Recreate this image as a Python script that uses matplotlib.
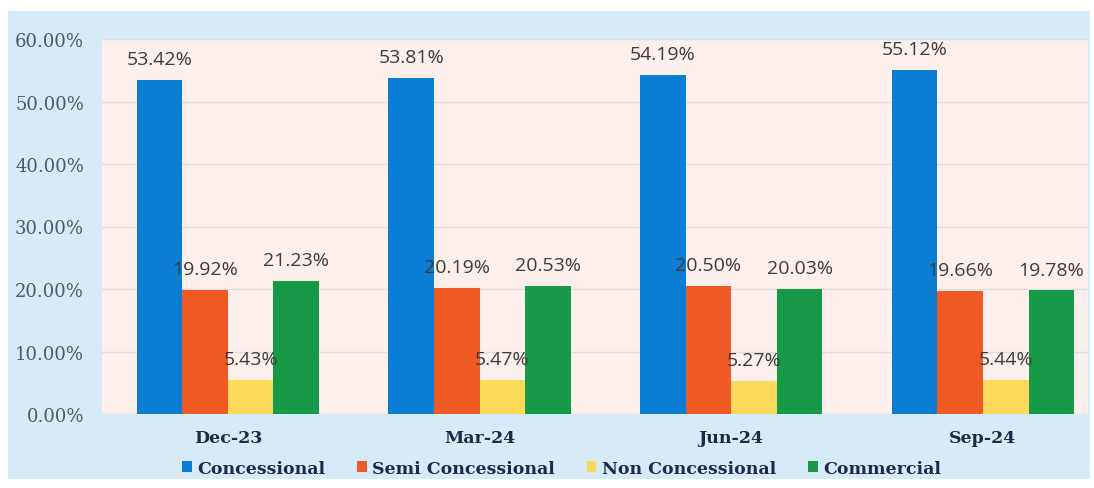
"""Debt composition by concessionality, quarterly."""
import matplotlib
matplotlib.use("Agg")
import matplotlib.pyplot as plt
import numpy as np
from matplotlib.patches import Rectangle

quarters = ["Dec-23", "Mar-24", "Jun-24", "Sep-24"]
series = ["Concessional", "Semi Concessional", "Non Concessional", "Commercial"]
concessional = [53.42, 53.81, 54.19, 55.12]
semi_concessional = [19.92, 20.19, 20.50, 19.66]
non_concessional = [5.43, 5.47, 5.27, 5.44]
commercial = [21.23, 20.53, 20.03, 19.78]
colors = ["#0b7dd4", "#ef5a24", "#fcd95a", "#169a48"]

values = [concessional, semi_concessional, non_concessional, commercial]

fig = plt.figure(figsize=(10.94, 4.89), dpi=100)
fig.patch.set_facecolor("white")
bg = fig.add_axes([0, 0, 1, 1], zorder=0)
bg.axis("off")
bg.set_xlim(0, 1094); bg.set_ylim(489, 0)
bg.add_patch(Rectangle((8, 12), 1082, 468, facecolor="#d6ebf8",
                       edgecolor="none"))

ax = fig.add_axes([102 / 1094, 74 / 489, 986 / 1094, 375 / 489], zorder=1)
ax.set_facecolor("#fcefec")

x = np.arange(len(quarters))
w = 0.181
for i, (name, vals, c) in enumerate(zip(series, values, colors)):
    pos = x + (i - 1.5) * w
    ax.bar(pos, vals, width=w, color=c, label=name, zorder=3)
    for p, v in zip(pos, vals):
        ax.text(p, v + 1.9, f"{v:.2f}%", ha="center", va="bottom",
                fontsize=14, color="#3c3c3c", family="Open Sans", zorder=4)

ax.set_xlim(-0.5, -0.5 + 986 / 251.7)
ax.set_ylim(0, 60)
ax.set_yticks(np.arange(0, 61, 10))
ax.set_yticklabels([f"{t:.2f}%" for t in np.arange(0, 61, 10)],
                   family="DejaVu Serif", fontsize=13, color="#4a5a6a")
ax.set_xticks(x)
ax.set_xticklabels(quarters, family="DejaVu Serif", fontweight="bold",
                   fontsize=12.5, color="#1e2a48")
ax.tick_params(axis="both", length=0)
ax.tick_params(axis="x", pad=11)
ax.tick_params(axis="y", pad=13)
ax.grid(axis="y", color="#dedede", lw=1, zorder=1)
for s in ax.spines.values():
    s.set_visible(False)

leg = ax.legend(loc="upper center", bbox_to_anchor=(0.466, -0.08), ncol=4,
                frameon=False, handlelength=0.55, handleheight=0.55,
                handletextpad=0.3, columnspacing=1.85,
                prop={"family": "DejaVu Serif", "weight": "bold",
                      "size": 12.5})
for t in leg.get_texts():
    t.set_color("#1e2a48")

fig.savefig("out.png", dpi=100)
